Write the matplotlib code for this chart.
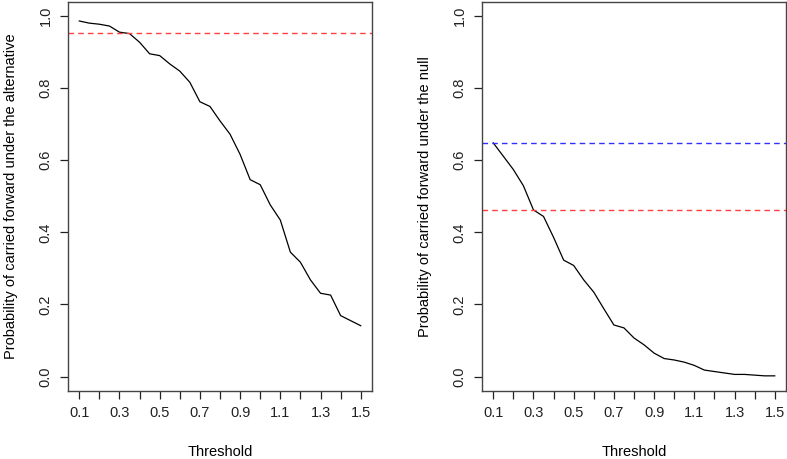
import numpy as np
import matplotlib
matplotlib.use("Agg")
from matplotlib import pyplot as plt

plt.rcParams['font.family'] = ['Liberation Sans', 'DejaVu Sans']

threshold = [0.1, 0.15, 0.2, 0.25, 0.3, 0.35, 0.4, 0.45, 0.5, 0.55, 0.6, 0.65, 0.7, 0.75,
             0.8, 0.85, 0.9, 0.95, 1.0, 1.05, 1.1, 1.15, 1.2, 1.25, 1.3, 1.35, 1.4, 1.45, 1.5]

p_alt = [0.986, 0.980, 0.977, 0.972, 0.955, 0.951, 0.927, 0.895, 0.890, 0.867, 0.847, 0.816,
         0.762, 0.749, 0.709, 0.672, 0.616, 0.546, 0.532, 0.476, 0.434, 0.345, 0.317, 0.268,
         0.231, 0.226, 0.169, 0.155, 0.141]

p_null = [0.648, 0.611, 0.574, 0.529, 0.462, 0.444, 0.386, 0.323, 0.308, 0.268, 0.234, 0.188,
          0.143, 0.135, 0.107, 0.088, 0.065, 0.050, 0.046, 0.040, 0.031, 0.018, 0.014, 0.010,
          0.006, 0.006, 0.004, 0.002, 0.002]

alt_red = 0.952
null_blue = 0.648
null_red = 0.462

xticks = np.round(np.arange(0.1, 1.51, 0.1), 1)
xlabels = [f"{t:.1f}" if i % 2 == 0 else "" for i, t in enumerate(xticks)]
yticks = [0.0, 0.2, 0.4, 0.6, 0.8, 1.0]

fig = plt.figure(figsize=(7.87, 4.59), dpi=100)
ax1 = fig.add_axes([68 / 787, 68 / 459, 304 / 787, 389.5 / 459])
ax2 = fig.add_axes([482 / 787, 68 / 459, 304 / 787, 389.5 / 459])


def style(ax, ylabel):
    ax.set_xlim(0.044, 1.556)
    ax.set_ylim(-0.04, 1.04)
    ax.set_xticks(xticks)
    ax.set_xticklabels(xlabels)
    ax.set_yticks(yticks)
    ax.set_yticklabels([f"{v:.1f}" for v in yticks], rotation=90, va='center')
    ax.tick_params(direction='out', length=6, width=0.9, labelsize=10.5, colors='#222222', pad=5)
    for s in ax.spines.values():
        s.set_color('#444444')
        s.set_linewidth(1.0)
    ax.set_xlabel("Threshold", fontsize=10.5, labelpad=18)
    ax.set_ylabel(ylabel, fontsize=10.5, labelpad=15)


ax1.plot(threshold, p_alt, color='black', lw=0.9)
ax1.axhline(alt_red, color='#ff4040', ls=(0, (4, 3)), lw=1.0)
style(ax1, "Probability of carried forward under the alternative")

ax2.plot(threshold, p_null, color='black', lw=0.9)
ax2.axhline(null_blue, color='#3030ff', ls=(0, (4, 3)), lw=1.0)
ax2.axhline(null_red, color='#ff4040', ls=(0, (4, 3)), lw=1.0)
style(ax2, "Probability of carried forward under the null")

fig.savefig("out.png", dpi=100)
